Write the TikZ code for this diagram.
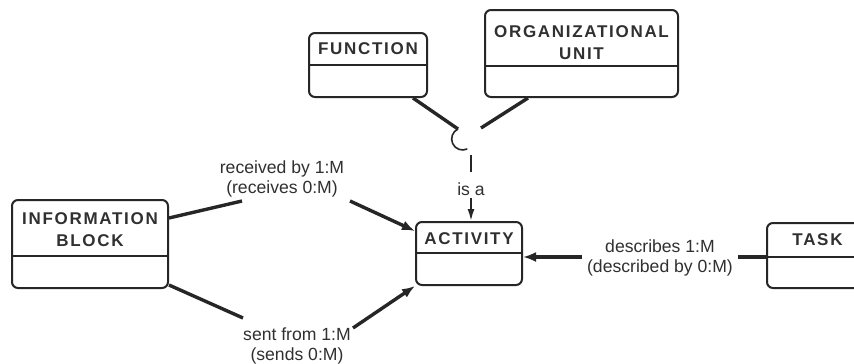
\documentclass[tikz,border=0pt]{standalone}
\usepackage{fontspec}
\setmainfont{Liberation Sans}
\newfontfamily\titlefont[LetterSpace=10]{Liberation Sans}
\usetikzlibrary{arrows.meta}
\definecolor{ink}{RGB}{38,38,38}
\definecolor{txt}{RGB}{48,48,48}
\begin{document}
\begin{tikzpicture}[x=1pt,y=-1pt,
  ent/.style={draw=ink, line width=2pt, rounded corners=6pt, inner sep=0pt},
  ttl/.style={font=\titlefont\bfseries\fontsize{17}{22}\selectfont, align=center, text=txt, inner sep=0pt},
  lbl/.style={font=\fontsize{17.6}{20}\selectfont, align=center, text=txt, inner sep=0pt},
  conn/.style={draw=ink, line width=3.4pt},
  thinconn/.style={draw=ink, line width=1.8pt},
  tip/.style={-{Latex[length=13pt,width=10pt]}},
  smalltip/.style={-{Latex[length=12pt,width=7pt]}}]
\useasboundingbox (0,0) rectangle (854,364);
\fill[white] (0,0) rectangle (854,364);

% entity boxes
\node[ent, minimum width=118pt, minimum height=64pt] (func) at (368,65) {};
\node[ent, minimum width=193pt, minimum height=87pt] (org) at (581.5,53.5) {};
\node[ent, minimum width=156pt, minimum height=88pt] (info) at (90,244) {};
\node[ent, minimum width=106pt, minimum height=63pt] (act) at (469,253.5) {};
\node[ent, minimum width=101pt, minimum height=65pt] (task) at (817.5,255.5) {};

% compartment dividers
\draw[ink, line width=2pt] (func.west |- 0,65) -- (func.east |- 0,65);
\draw[ink, line width=2pt] (org.west |- 0,66) -- (org.east |- 0,66);
\draw[ink, line width=2pt] (info.west |- 0,256) -- (info.east |- 0,256);
\draw[ink, line width=2pt] (act.west |- 0,253) -- (act.east |- 0,253);
\draw[ink, line width=2pt] (task.west |- 0,257) -- (task.east |- 0,257);

% titles
\node[ttl] (funcT) at (368,49) {FUNCTION};
\node[ttl] (orgT) at (581.5,42.5) {ORGANIZATIONAL\\UNIT};
\node[ttl] (infoT) at (90,229.5) {INFORMATION\\BLOCK};
\node[ttl] (actT) at (469,238.5) {ACTIVITY};
\node[ttl] (taskT) at (817.5,240) {TASK};

% relationship labels
\node[lbl] (recvL) at (282,179) {received by 1:M\\(receives 0:M)};
\node[lbl] (sentL) at (297,346) {sent from 1:M\\(sends 0:M)};
\node[lbl] (descL) at (660,258) {describes 1:M\\(described by 0:M)};
\node[lbl] (isaL) at (471,189) {is a};

% free ends beside the labels and at the junction
\coordinate (r1) at (242,201);
\coordinate (r2) at (350,201);
\coordinate (s1) at (243,318);
\coordinate (s2) at (353,328);
\coordinate (d1) at (582,257);
\coordinate (d2) at (738,257);
\coordinate (j1) at (458,129);
\coordinate (j2) at (481,128);
\coordinate (k1) at (471,155);
\coordinate (k2) at (471,172);
\coordinate (k3) at (471,198);

% generalisation junction
\draw[conn] ([xshift=45pt]func.south) -- (j1);
\draw[conn] ([xshift=-53.5pt]org.south) -- (j2);
\draw[ink, line width=1.6pt] (j1) arc[start angle=115, end angle=295, radius=11pt];
\draw[thinconn] (k1) -- (k2);
\draw[thinconn, smalltip] (k3) -- ([xshift=2pt]act.north);

% information block to activity
\draw[conn] ([yshift=26pt]info.east) -- (r1);
\draw[conn, tip] (r2) -- ([yshift=22.5pt]act.west);
\draw[conn] ([yshift=4pt]info.south east) -- (s1);
\draw[conn, tip] (s2) -- (act.south west);

% task to activity
\draw[conn] (d2) -- (task.west |- d2);
\draw[conn, tip] (d1) -- (act.east |- d1);
\end{tikzpicture}
\end{document}
